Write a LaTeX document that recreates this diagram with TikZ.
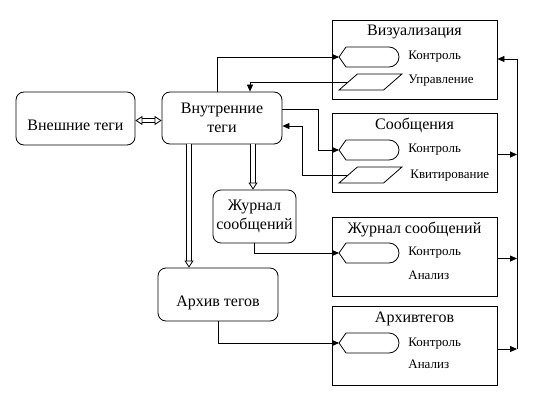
\documentclass[tikz,border=0pt]{standalone}
\usepackage{fontspec}
\setmainfont{Liberation Serif}
\usetikzlibrary{arrows.meta,positioning,shapes.geometric}

\tikzset{
  tagbox/.style={draw, rounded corners=8pt, align=center, font=\fontsize{16}{19}\selectfont},
  modbox/.style={draw, minimum width=165pt, minimum height=79pt},
  modtitle/.style={inner sep=0pt, font=\fontsize{16}{19}\selectfont},
  item/.style={anchor=base west, inner sep=0pt, font=\fontsize{13}{15}\selectfont},
  inpar/.style={draw, trapezium, trapezium left angle=55, trapezium right angle=125,
    trapezium stretches=true, minimum width=63pt, minimum height=16pt},
  ctl/.pic={
    \draw (0,0) -- (7,-10) -- (50,-10) arc[start angle=90, end angle=-90, radius=10pt] -- (7,10) -- cycle;
    \coordinate (-tip) at (0,0);
  },
  sig/.style={-{Triangle[length=7pt,width=6pt]}},
  wide/.style={double distance=3.5pt, -{Triangle[open,length=7pt,width=9pt]}}
}

\begin{document}
\begin{tikzpicture}[x=1pt, y=-1pt, line width=0.8pt]
\useasboundingbox (0,0) rectangle (534,401);

% tag storages
\node[tagbox, minimum width=119pt, minimum height=53pt, text height=27pt, text depth=3pt] (ext) at (75.5,118.5) {Внешние теги};
\node[tagbox, minimum width=120pt, minimum height=52pt] (int) at (222,118) {Внутренние\\теги};
\node[tagbox, minimum width=83pt, minimum height=53pt, inner sep=1pt] (jrn) at (254.5,216.5) {Журнал\\сообщений};
\node[tagbox, minimum width=120pt, minimum height=53pt, text height=27pt, text depth=3pt] (arh) at (218,294.5) {Архив тегов};

% modules
\node[modbox] (vis) at (414.5,59.5) {};
\node[modbox] (soob) at (414.5,152.5) {};
\node[modbox] (jsoob) at (414.5,256.5) {};
\node[modbox] (arhv) at (414.5,346) {};

\node[modtitle, below=5pt of vis.north] (vist) {Визуализация};
\node[modtitle, below=5.5pt of soob.north] (soobt) {Сообщения};
\node[modtitle, below=5pt of jsoob.north] (jsoobt) {Журнал сообщений};
\node[modtitle, below=5.5pt of arhv.north] (arhvt) {Архивтегов};

\pic (vc) at (339,57) {ctl};
\pic (sc) at (339,150) {ctl};
\pic (jc) at (339,253) {ctl};
\pic (ac) at (339,343) {ctl};
\node[inpar] (vp) at (370.5,82) {};
\node[inpar] (sp) at (370.5,175) {};

\node[item] (vk) at (408,59.3) {Контроль};
\node[item] (vu) at (408,84) {Управление};
\node[item] (sk) at (408,152.3) {Контроль};
\node[item] (sq) at (410,178.3) {Квитирование};
\node[item] (jk) at (408,255) {Контроль};
\node[item] (ja) at (408,279.3) {Анализ};
\node[item] (ak) at (408,346) {Контроль};
\node[item] (aa) at (408,368.3) {Анализ};

% data flows
\draw[wide, {Triangle[open,length=7pt,width=9pt]}-{Triangle[open,length=7pt,width=9pt]}] ([yshift=-2pt]ext.east) -- ([yshift=-2pt]ext.east -| int.west);
\draw[wide] ([xshift=31pt]int.south) -- ([xshift=31pt]int.south |- jrn.north);
\draw[wide] ([xshift=-33pt]int.south) -- ([xshift=-33pt]int.south |- arh.north);

\draw[sig] ([xshift=-5pt]int.north) |- (vc-tip);
\draw[sig] (vp.west) -| ([xshift=28pt]int.north);
\draw[sig] ([yshift=9pt]int.east) -- ++(36,0) |- (sc-tip);
\draw[sig] (sp.west) -- ++(-45,0) |- ([yshift=-8pt]int.east);
\draw[sig] (jrn.south) |- (jc-tip);
\draw[sig] (arh.south) |- (ac-tip);

% common bus
\coordinate (bustop) at (517,59);
\coordinate (busbot) at (517,349);
\draw (bustop) -- (busbot);
\draw[sig] (bustop) -- (vis.east |- bustop);
\draw[sig] ([yshift=-2pt]soob.east) -- ([yshift=-2pt]soob.east -| bustop);
\draw[sig] ([yshift=-2pt]jsoob.east) -- ([yshift=-2pt]jsoob.east -| bustop);
\draw[sig] (arhv.east |- busbot) -- (busbot);
\end{tikzpicture}
\end{document}
